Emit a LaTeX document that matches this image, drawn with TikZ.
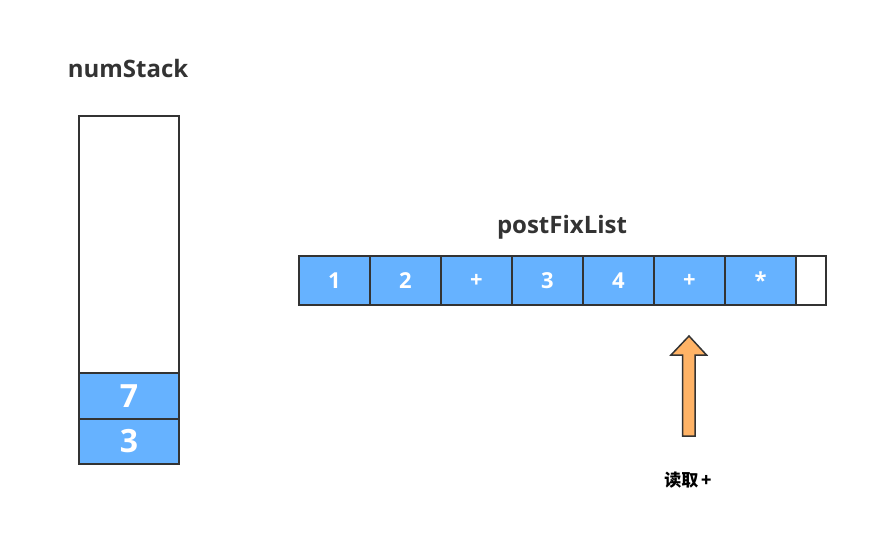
\documentclass[tikz,border=0pt]{standalone}
\usepackage{fontspec}
\setmainfont{Open Sans}
\newfontfamily\cjk{Noto Sans CJK SC}
\definecolor{cellblue}{HTML}{66B2FF}
\definecolor{arroworange}{HTML}{FFB366}
\definecolor{edge}{HTML}{333333}
\begin{document}
\begin{tikzpicture}[x=1pt,y=-1pt,
  cell/.style={draw=edge,line width=2pt,fill=cellblue,text=white,font=\bfseries\fontsize{22}{24}\selectfont,minimum width=71pt,minimum height=49pt,inner sep=0pt,anchor=north west},
  scell/.style={draw=edge,line width=2pt,fill=cellblue,text=white,font=\bfseries\fontsize{32}{34}\selectfont,minimum width=100pt,inner sep=0pt,anchor=north west},
  title/.style={text=edge,font=\bfseries\fontsize{24}{26}\selectfont}]
\useasboundingbox (0,0) rectangle (887,560);
% stack
\node[draw=edge,line width=2pt,minimum width=100pt,minimum height=257pt,inner sep=0pt,anchor=north west] (stackbox) at (78,115) {};
\node[scell,minimum height=46pt] (s7) at (78,372) {7};
\node[scell,minimum height=45pt] (s3) at (78,418) {3};
\node[title] (numt) at (128,68) {numStack};
% list
\node[title] (postt) at (562,227) {postFixList};
\node[cell] (c1) at (298,255) {1};
\node[cell] (c2) at (369,255) {2};
\node[cell] (c3) at (440,255) {+};
\node[cell] (c4) at (511,255) {3};
\node[cell] (c5) at (582,255) {4};
\node[cell] (c6) at (653,255) {+};
\node[cell] (c7) at (724,255) {*};
\node[cell,fill=white,minimum width=30pt] (c8) at (795,255) {};
% arrow
\draw[draw=edge,line width=1.5pt,fill=arroworange,line join=miter]
  (689,336) -- (706.5,355) -- (695,355) -- (695,436) -- (682.5,436) -- (682.5,355) -- (671,355) -- cycle;
\node[font=\cjk\bfseries\fontsize{17}{19}\selectfont] (readlbl) at (688,480) {读取\,+};
\end{tikzpicture}
\end{document}
